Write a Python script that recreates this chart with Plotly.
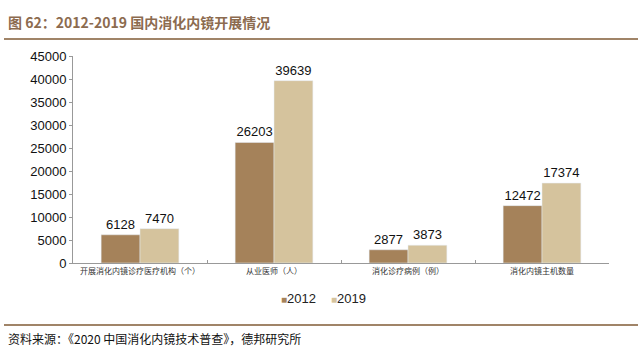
import plotly.graph_objects as go

categories = ["开展消化内镜诊疗医疗机构（个）", "从业医师（人）", "消化诊疗病例（例）", "消化内镜主机数量"]
values_2012 = [6128, 26203, 2877, 12472]
values_2019 = [7470, 39639, 3873, 17374]
y_ticks = [0, 5000, 10000, 15000, 20000, 25000, 30000, 35000, 40000, 45000]
series_names = ["2012", "2019"]

c2012 = "#A5825A"
c2019 = "#D5C39D"
lbl_font = dict(family="Arial, Liberation Sans", size=13, color="#111")

fig = go.Figure()
fig.add_trace(go.Bar(name=series_names[0], x=categories, y=values_2012, marker_color=c2012,
                     text=[str(v) for v in values_2012], textposition="outside",
                     textfont=lbl_font, cliponaxis=False, showlegend=False))
fig.add_trace(go.Bar(name=series_names[1], x=categories, y=values_2019, marker_color=c2019,
                     text=[str(v) for v in values_2019], textposition="outside",
                     textfont=lbl_font, cliponaxis=False, showlegend=False))
# legend entries: square swatch drawn inline with the label
for nm, col in zip(series_names, [c2012, c2019]):
    fig.add_trace(go.Scatter(
        name=f"<span style='color:{col};font-size:10px'>■</span>{nm}",
        x=[None], y=[None], mode="markers",
        marker=dict(symbol="square", size=1, color="rgba(0,0,0,0)")))
# spacer entry so the last label is not clipped by the legend box
fig.add_trace(go.Scatter(name=" ", x=[None], y=[None], mode="markers",
                         marker=dict(size=1, color="rgba(0,0,0,0)"), hoverinfo="skip"))

fig.update_layout(
    width=640, height=353,
    margin=dict(l=73, r=31, t=56, b=90),
    paper_bgcolor="white", plot_bgcolor="white",
    barmode="group", bargap=0.42, bargroupgap=0,
    showlegend=True,
    legend=dict(orientation="h", x=(281 - 40 - 73) / 536, xanchor="left", y=-0.095, yanchor="top",
                font=dict(family="Arial, Liberation Sans", size=13, color="#222"),
                itemwidth=30, entrywidth=5, entrywidthmode="pixels",
                traceorder="normal", tracegroupgap=0),
    xaxis=dict(showline=True, linecolor="#999", linewidth=1, ticks="inside",
               tickson="boundaries", ticklen=3, tickcolor="#999",
               tickfont=dict(family="Noto Sans CJK SC", size=8, color="#333"),
               showgrid=False),
    yaxis=dict(range=[0, 45000], tickvals=y_ticks, ticktext=[str(v) for v in y_ticks],
               showline=True, linecolor="#999",
               linewidth=1, ticks="outside", ticklen=3, tickcolor="#999",
               tickfont=dict(family="Arial, Liberation Sans", size=13, color="#111"),
               showgrid=False, zeroline=False),
    font=dict(family="Arial, Liberation Sans"),
)

fig.add_annotation(text="图 62：2012-2019 国内消化内镜开展情况", xref="paper", yref="paper",
                   x=-67/536, y=1 + (56 - 22) / 207, xanchor="left", yanchor="middle",
                   showarrow=False,
                   font=dict(family="Noto Sans CJK SC", size=14, color="#8C6B4F", weight="bold"))
fig.add_annotation(text="资料来源：《2020 中国消化内镜技术普查》，德邦研究所", xref="paper", yref="paper",
                   x=-67/536, y=-(338 - 263) / 207, xanchor="left", yanchor="middle",
                   showarrow=False,
                   font=dict(family="Noto Sans CJK SC", size=12, color="#111"))

fig.add_shape(type="line", xref="paper", yref="paper",
              x0=-69/536, x1=(638 - 73) / 536, y0=1 + (56 - 39) / 207, y1=1 + (56 - 39) / 207,
              line=dict(color="#A08468", width=2))
fig.add_shape(type="line", xref="paper", yref="paper",
              x0=-69/536, x1=(638 - 73) / 536, y0=-(325 - 263) / 207, y1=-(325 - 263) / 207,
              line=dict(color="#A08468", width=2))

fig.write_html("out.html")
